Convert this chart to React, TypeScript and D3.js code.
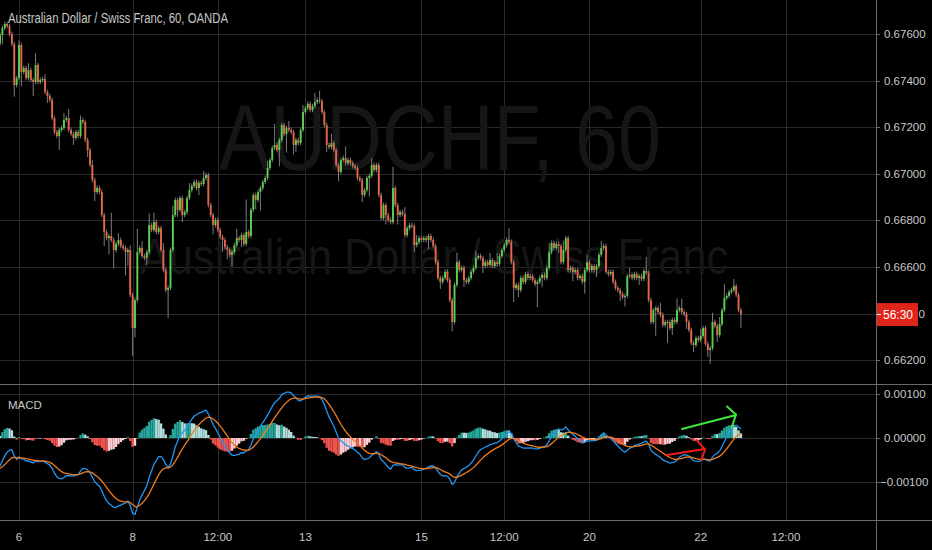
import { useEffect, useRef } from "react";
import * as d3 from "d3";

const W = 932;
const H = 550;

// hourly closes, AUD/CHF (OANDA)
const firstOpen = 0.6756;
const closes = [
  0.67596, 0.67626, 0.67643, 0.67634, 0.676, 0.67557, 0.67381, 0.67411, 0.67553, 0.67437,
  0.67454, 0.67411, 0.67445, 0.67403, 0.67394, 0.67467, 0.67394, 0.67403, 0.67407, 0.67351,
  0.67334, 0.67317, 0.67239, 0.67179, 0.67162, 0.67188, 0.67197, 0.67231, 0.67239, 0.67188,
  0.67171, 0.67154, 0.67179, 0.67162, 0.67231, 0.67222, 0.67145, 0.67102, 0.67038, 0.66973,
  0.66922, 0.66939, 0.66922, 0.66823, 0.6675, 0.66724, 0.66733, 0.66716, 0.66673, 0.66699,
  0.66716, 0.6669, 0.66682, 0.66664, 0.66673, 0.6648, 0.66338, 0.66458, 0.66664, 0.66682,
  0.66647, 0.66639, 0.66664, 0.6678, 0.66759, 0.66793, 0.6675, 0.66767, 0.66673, 0.66587,
  0.66501, 0.6651, 0.66673, 0.66823, 0.66888, 0.66845, 0.66896, 0.66823, 0.66836, 0.66896,
  0.6693, 0.66948, 0.66965, 0.66939, 0.66961, 0.66956, 0.66982, 0.66995, 0.66866, 0.66823,
  0.6678, 0.66802, 0.66759, 0.66729, 0.66716, 0.66686, 0.66673, 0.66652, 0.66664, 0.66694,
  0.66724, 0.66716, 0.66737, 0.66699, 0.6675, 0.66733, 0.66845, 0.66909, 0.66888, 0.66922,
  0.66939, 0.66965, 0.66982, 0.67025, 0.67059, 0.67111, 0.67124, 0.67102, 0.67145, 0.67209,
  0.67171, 0.67197, 0.67188, 0.67179, 0.67124, 0.67145, 0.67132, 0.67188, 0.67265, 0.67282,
  0.673, 0.67274, 0.67291, 0.67308, 0.67317, 0.67312, 0.67265, 0.67209, 0.67124, 0.67115,
  0.67132, 0.67102, 0.67038, 0.67008, 0.67059, 0.67068, 0.67046, 0.67059, 0.67046, 0.67033,
  0.67025, 0.66982, 0.66973, 0.66909, 0.6693, 0.66982, 0.66991, 0.67038, 0.67016, 0.67038,
  0.66909, 0.6681, 0.66866, 0.66823, 0.66802, 0.66793, 0.66939, 0.66866, 0.66823, 0.66836,
  0.66827, 0.66737, 0.66767, 0.6678, 0.66776, 0.66694, 0.66707, 0.66724, 0.66716, 0.66724,
  0.66716, 0.66733, 0.66716, 0.6669, 0.66621, 0.66553, 0.66536, 0.66553, 0.66579, 0.66544,
  0.66458, 0.66364, 0.66523, 0.66621, 0.66587, 0.66596, 0.66544, 0.66536, 0.66553, 0.66579,
  0.66596, 0.66639, 0.66647, 0.66639, 0.66604, 0.66621, 0.66609, 0.6663, 0.66604, 0.66621,
  0.66613, 0.66647, 0.66673, 0.66694, 0.66716, 0.66707, 0.66621, 0.6651, 0.66523, 0.66501,
  0.66553, 0.66536, 0.6657, 0.66553, 0.66561, 0.66544, 0.66527, 0.66536, 0.66553, 0.66566,
  0.66553, 0.66596, 0.66664, 0.66703, 0.66682, 0.66699, 0.6669, 0.66621, 0.66673, 0.66724,
  0.66587, 0.66596, 0.66579, 0.66587, 0.66553, 0.66561, 0.66536, 0.66587, 0.66621, 0.66587,
  0.66604, 0.66587, 0.66604, 0.66652, 0.66682, 0.6669, 0.66579, 0.6657, 0.66579, 0.66536,
  0.6651, 0.66501, 0.66484, 0.66471, 0.66476, 0.66561, 0.66566, 0.66553, 0.6657, 0.66553,
  0.66561, 0.66549, 0.66583, 0.66574, 0.66458, 0.66364, 0.66415, 0.66424, 0.66407, 0.66394,
  0.66351, 0.66364, 0.66364, 0.66338, 0.66373, 0.66364, 0.66415, 0.66424, 0.66407, 0.66398,
  0.66364, 0.6633, 0.66274, 0.66265, 0.66295, 0.66287, 0.66304, 0.66338, 0.6627, 0.66244,
  0.66252, 0.66364, 0.66347, 0.66308, 0.66355, 0.66415, 0.66467, 0.66476, 0.66493, 0.66501,
  0.66518, 0.6648, 0.66415, 0.66398,
];

// wick length beyond the body, in pips (base-36 digit per candle)
const upperWicks = `
1111111121 1131151112 1111111314 1111211112 1111111a11 31111211a1 3115141113 1114111111
3111113111 1111111111 4111e11111 1113119111 1131111131 1114141111 4111115111 1111111311
1111119111 1311113111 1111111111 1114111111 1311111311 4111151111 1111111111 1141111141
1111111131 1111311111 1111113111 1116111114 1111115141 1111113111 1411316111 3111`;
const lowerWicks = `
1411115116 1111611111 3111161111 1311111311 4111617181 111a61c411 1131111111 1c11131311
1111311111 4111514151 1131111141 8111111171 1811431111 1111111131 1114111111 1113118111
1114111141 1111131111 1411113111 1411113111 1111311111 1111111613 1111111a14 1111113111
1141111511 1131111111 1131411111 3111111b11 1191311111 3113111113 6113111111 1116`;

const priceTicks = [0.662, 0.664, 0.666, 0.668, 0.67, 0.672, 0.674, 0.676];
const macdTicks = [-0.001, 0, 0.001];
const timeLabels = ["6", "8", "12:00", "13", "15", "12:00", "20", "22", "12:00"];
const timeIndex = [8, 56, 92, 129, 178, 213, 249, 296, 332];
// EMA state just before the first candle: fast(12), slow(26), signal(9)
const macdSeed = [0.67525, 0.676, -0.0007];

const FONT = "'Liberation Sans', Arial, sans-serif";

export default function App() {
  const svgRef = useRef<SVGSVGElement | null>(null);

  useEffect(() => {
    if (!svgRef.current) return;
    const svg = d3.select(svgRef.current);
    svg.selectAll("*").remove();

    const axisX = 876;
    const mainBottom = 384;
    const macdBottom = 520;

    const x = d3.scaleLinear().domain([0, 332]).range([0.06, 0.06 + 332 * 2.367]);
    const y = d3.scaleLinear().domain([0.662, 0.676]).range([360.2, 34]);
    const ym = d3.scaleLinear().domain([-0.001, 0.001]).range([482, 394]);

    const up = upperWicks.replace(/\s/g, "");
    const dn = lowerWicks.replace(/\s/g, "");
    const candles = closes.map((c, i) => {
      const o = i === 0 ? firstOpen : closes[i - 1];
      return {
        i,
        o,
        c,
        h: Math.max(o, c) + parseInt(up[i], 36) * 0.0001,
        l: Math.min(o, c) - parseInt(dn[i], 36) * 0.0001,
      };
    });

    // macd 12/26/9
    let f = macdSeed[0];
    let s = macdSeed[1];
    let g = macdSeed[2];
    const macd = closes.map((c, i) => {
      f += (2 / 13) * (c - f);
      s += (2 / 27) * (c - s);
      const m = f - s;
      g += (2 / 10) * (m - g);
      return { i, m, sig: g, h: m - g };
    });

    svg.append("rect").attr("width", W).attr("height", H).attr("fill", "#000");

    const defs = svg.append("defs");
    defs.append("clipPath").attr("id", "clipMain")
      .append("rect").attr("x", 0).attr("y", 0).attr("width", axisX).attr("height", mainBottom);
    defs.append("clipPath").attr("id", "clipMacd")
      .append("rect").attr("x", 0).attr("y", mainBottom + 1).attr("width", axisX).attr("height", macdBottom - mainBottom - 1);

    // grid
    const grid = svg.append("g").attr("stroke", "#2a2a2a").attr("stroke-width", 1);
    timeIndex.forEach((t) => {
      const xx = Math.round(x(t)) + 0.5;
      grid.append("line").attr("x1", xx).attr("x2", xx).attr("y1", 0).attr("y2", macdBottom);
    });
    priceTicks.forEach((p) => {
      const yy = Math.round(y(p)) + 0.5;
      grid.append("line").attr("x1", 0).attr("x2", axisX).attr("y1", yy).attr("y2", yy);
    });
    macdTicks.forEach((p) => {
      const yy = Math.round(ym(p)) + 0.5;
      grid.append("line").attr("x1", 0).attr("x2", axisX).attr("y1", yy).attr("y2", yy);
    });

    // watermark
    svg.append("text").text("AUDCHF, 60")
      .attr("x", 219).attr("y", 170)
      .attr("font-family", FONT).attr("font-size", 92)
      .attr("textLength", 442).attr("lengthAdjust", "spacingAndGlyphs")
      .attr("fill", "#161616");
    svg.append("text").text("Australian Dollar / Swiss Franc")
      .attr("x", 140).attr("y", 274)
      .attr("font-family", FONT).attr("font-size", 50)
      .attr("textLength", 588).attr("lengthAdjust", "spacingAndGlyphs")
      .attr("fill", "#161616");

    // candles
    const upCol = "#58d24c";
    const dnCol = "#e8644a";
    const cg = svg.append("g").attr("clip-path", "url(#clipMain)");
    cg.selectAll("line.wick").data(candles).enter().append("line")
      .attr("x1", (d) => x(d.i)).attr("x2", (d) => x(d.i))
      .attr("y1", (d) => y(d.h)).attr("y2", (d) => y(d.l))
      .attr("stroke", "#8a8a8a").attr("stroke-width", 0.9);
    cg.selectAll("rect.body").data(candles).enter().append("rect")
      .attr("x", (d) => x(d.i) - 0.95)
      .attr("width", 1.9)
      .attr("y", (d) => y(Math.max(d.o, d.c)))
      .attr("height", (d) => Math.max(1, Math.abs(y(d.o) - y(d.c))))
      .attr("fill", (d) => (d.c >= d.o ? upCol : dnCol));

    // macd pane
    const mg = svg.append("g").attr("clip-path", "url(#clipMacd)");
    mg.selectAll("rect.hist").data(macd).enter().append("rect")
      .attr("x", (d) => x(d.i) - 1.19)
      .attr("width", 2.38)
      .attr("y", (d) => Math.min(ym(0), ym(d.h)))
      .attr("height", (d) => Math.abs(ym(d.h) - ym(0)))
      .attr("fill", (d, i) => {
        const prev = i > 0 ? macd[i - 1].h : d.h;
        if (d.h >= 0) return prev < d.h ? "#26a69a" : "#b2dfdb";
        return prev < d.h ? "#ffcdd2" : "#ef5350";
      });
    mg.append("path").datum(macd)
      .attr("d", d3.line<typeof macd[number]>().x((d) => x(d.i)).y((d) => ym(d.m)))
      .attr("fill", "none").attr("stroke", "#2196f3").attr("stroke-width", 1.3);
    mg.append("path").datum(macd)
      .attr("d", d3.line<typeof macd[number]>().x((d) => x(d.i)).y((d) => ym(d.sig)))
      .attr("fill", "none").attr("stroke", "#f07c1e").attr("stroke-width", 1.3);

    // hand-drawn arrows
    svg.append("path").attr("d", "M682,429 L736,415 M727,406.5 L736,414.5 L731.5,428")
      .attr("fill", "none").attr("stroke", "#3ee63a").attr("stroke-width", 2).attr("stroke-linecap", "round");
    svg.append("path").attr("d", "M667,455 L705,449 M696.5,440 L705,449.5 L701.5,460")
      .attr("fill", "none").attr("stroke", "#f01c1c").attr("stroke-width", 2).attr("stroke-linecap", "round");

    // pane borders
    const bord = svg.append("g").attr("stroke", "#6a6a6a").attr("stroke-width", 1);
    bord.append("line").attr("x1", 0).attr("x2", W).attr("y1", mainBottom + 0.5).attr("y2", mainBottom + 0.5);
    bord.append("line").attr("x1", 0).attr("x2", W).attr("y1", macdBottom + 0.5).attr("y2", macdBottom + 0.5);
    bord.append("line").attr("x1", axisX + 0.5).attr("x2", axisX + 0.5).attr("y1", 0).attr("y2", H);

    // price axis
    const fmt = d3.format(".5f");
    const labCol = "#c8c8c8";
    const lastP = closes[closes.length - 1];
    const lastY = y(lastP);
    const pa = svg.append("g").attr("font-family", FONT).attr("font-size", 11.5).attr("fill", labCol);
    [...priceTicks.map((p) => y(p)), ...macdTicks.map((p) => ym(p))].forEach((yy) => {
      svg.append("line").attr("x1", axisX).attr("x2", axisX + 4)
        .attr("y1", Math.round(yy) + 0.5).attr("y2", Math.round(yy) + 0.5)
        .attr("stroke", "#6a6a6a");
    });
    priceTicks.forEach((p) => {
      // the 0.66400 label sits under the countdown box; only its last digit shows
      if (Math.abs(y(p) - lastY) < 12) {
        pa.append("text").text(fmt(p).slice(-1)).attr("x", 925).attr("y", y(p) + 4)
          .attr("text-anchor", "end");
      } else {
        pa.append("text").text(fmt(p)).attr("x", 884).attr("y", y(p) + 4);
      }
    });
    macdTicks.forEach((p) => {
      pa.append("text").text(p === 0 ? "0.00000" : fmt(p))
        .attr("x", p < 0 ? 880 : 884).attr("y", ym(p) + 4);
    });

    // countdown label on last price
    svg.append("rect").attr("x", axisX + 1).attr("y", lastY - 11).attr("width", 41).attr("height", 23)
      .attr("fill", "#e0241c");
    svg.append("line").attr("x1", axisX + 1).attr("x2", axisX + 5)
      .attr("y1", Math.round(lastY) + 0.5).attr("y2", Math.round(lastY) + 0.5).attr("stroke", "#fff");
    svg.append("text").text("56:30").attr("x", 898).attr("y", lastY + 4.5)
      .attr("text-anchor", "middle").attr("font-family", FONT).attr("font-size", 12).attr("fill", "#fff");

    // time axis
    const ta = svg.append("g").attr("font-family", FONT).attr("font-size", 11.5).attr("fill", labCol)
      .attr("text-anchor", "middle");
    timeIndex.forEach((t, k) => {
      ta.append("text").text(timeLabels[k]).attr("x", x(t)).attr("y", 541);
    });

    // titles
    svg.append("text").text("Australian Dollar / Swiss Franc, 60, OANDA")
      .attr("x", 8).attr("y", 23).attr("font-family", FONT).attr("font-size", 14)
      .attr("textLength", 220).attr("lengthAdjust", "spacingAndGlyphs").attr("fill", labCol);
    svg.append("text").text("MACD").attr("x", 8).attr("y", 409)
      .attr("font-family", FONT).attr("font-size", 11.5).attr("fill", labCol);
  }, []);

  return (
    <svg
      ref={svgRef}
      width={W}
      height={H}
      style={{ position: "fixed", left: 0, top: 0, display: "block" }}
    />
  );
}
